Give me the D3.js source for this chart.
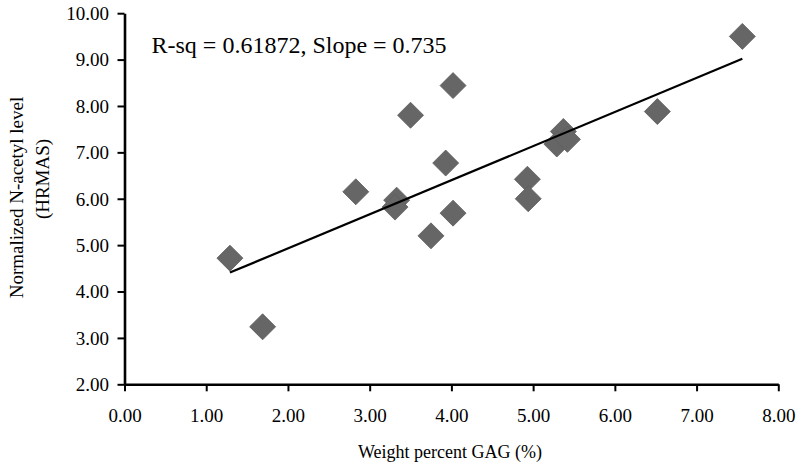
<!DOCTYPE html>
<html>
<head>
<meta charset="utf-8">
<script src="https://cdn.jsdelivr.net/npm/d3@7/dist/d3.min.js"></script>
<style>
  html, body { margin: 0; padding: 0; background: #fff; }
  svg { display: block; }
  text { font-family: "Liberation Serif", "Times New Roman", serif; fill: #000; }
</style>
</head>
<body>
<svg id="chart" width="800" height="468"></svg>
<script>
// ---- data ----
const gagPercent = [1.29, 1.69, 2.83, 3.33, 3.31, 3.75, 3.50, 4.02, 3.93, 4.02, 5.37, 5.29, 5.42, 4.93, 4.94, 7.56, 6.52];
const nAcetyl    = [4.72, 3.24, 6.15, 5.97, 5.82, 5.20, 7.80, 8.44, 6.77, 5.69, 7.45, 7.18, 7.28, 6.42, 6.00, 9.50, 7.88];
const xTicks = [0, 1, 2, 3, 4, 5, 6, 7, 8];
const yTicks = [2, 3, 4, 5, 6, 7, 8, 9, 10];
const fitSlope = 0.735;
const fitIntercept = 3.46;
const fitRange = [1.29, 7.56];
const annotation = "R-sq = 0.61872, Slope = 0.735";
const xTitle = "Weight percent GAG (%)";
const yTitleLines = ["Normalized N-acetyl level", "(HRMAS)"];

// ---- layout ----
const svg = d3.select("#chart");
const x = d3.scaleLinear().domain([0, 8]).range([124.5, 778.3]);
const y = d3.scaleLinear().domain([2, 10]).range([384.3, 13.2]);

const fmt = d3.format(".2f");

// points (drawn before axes/line so line sits above as in reference)
const pts = gagPercent.map((v, i) => ({ x: v, y: nAcetyl[i] }));
const half = 13;
svg.append("g").selectAll("path").data(pts).join("path")
  .attr("d", `M0,${-half}L${half},0L0,${half}L${-half},0Z`)
  .attr("transform", d => `translate(${x(d.x)},${y(d.y)})`)
  .attr("fill", "#666666")
  .attr("stroke", "#5e5e5e")
  .attr("stroke-width", 0.8);

// trend line
svg.append("line")
  .attr("x1", x(fitRange[0])).attr("y1", y(fitSlope * fitRange[0] + fitIntercept))
  .attr("x2", x(fitRange[1])).attr("y2", y(fitSlope * fitRange[1] + fitIntercept))
  .attr("stroke", "#000").attr("stroke-width", 2.2);

// axes
const xAxis = svg.append("g").attr("transform", `translate(0,${y(2)})`)
  .call(d3.axisBottom(x).tickValues(xTicks).tickFormat(fmt).tickSize(7).tickSizeOuter(0).tickPadding(0));
const yAxis = svg.append("g").attr("transform", `translate(${x(0)},0)`)
  .call(d3.axisLeft(y).tickValues(yTicks).tickFormat(fmt).tickSize(7).tickSizeOuter(0).tickPadding(0));

[xAxis, yAxis].forEach(g => {
  g.select(".domain").attr("stroke", "#000").attr("stroke-width", 2.6);
  g.selectAll(".tick line").attr("stroke", "#000").attr("stroke-width", 2);
  g.selectAll(".tick text")
    .style("font-family", '"Liberation Serif", "Times New Roman", serif')
    .style("font-size", "19px").attr("fill", "#000");
});
xAxis.selectAll(".tick text").attr("dy", null).attr("y", 38.2);
yAxis.selectAll(".tick text").attr("dy", null).attr("x", -15.5).attr("y", 6.4);

// annotation
svg.append("text").attr("x", 151.5).attr("y", 53)
  .style("font-size", "24px").text(annotation);

// axis titles
svg.append("text").attr("x", 450).attr("y", 458)
  .attr("text-anchor", "middle").style("font-size", "18px").text(xTitle);

svg.append("text").attr("transform", "translate(23,197.5) rotate(-90)")
  .attr("text-anchor", "middle").style("font-size", "19px").text(yTitleLines[0]);
svg.append("text").attr("transform", "translate(49,179) rotate(-90)")
  .attr("text-anchor", "middle").style("font-size", "19px").text(yTitleLines[1]);
</script>
</body>
</html>
